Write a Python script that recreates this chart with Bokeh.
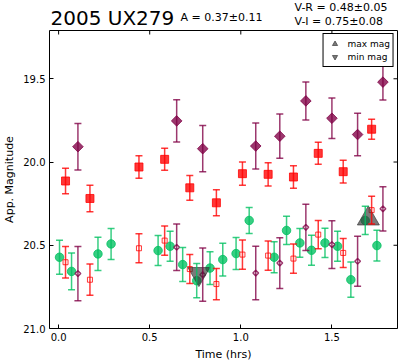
import math
from bokeh.plotting import figure
from bokeh.layouts import column
from bokeh.models import (ColumnDataSource, Whisker, TeeHead, Range1d, FixedTicker,
                          Legend, LegendItem, PrintfTickFormatter)
from bokeh.core.properties import value
from bokeh.embed import file_html
from bokeh.resources import INLINE

FONT = "DejaVu Sans"

# ---- data ----
x_ticks = [0.0, 0.5, 1.0, 1.5]
y_ticks = [19.5, 20.0, 20.5, 21.0]

# I band (filled purple diamonds) and I shifted by V-I (open purple diamonds)
t_I = [0.106, 0.648, 0.791, 1.082, 1.214, 1.357, 1.500, 1.641, 1.780]
mag_I = [19.908, 19.753, 19.920, 19.904, 19.845, 19.633, 19.737, 19.835, 19.520]
err_I = [0.140, 0.127, 0.139, 0.138, 0.133, 0.114, 0.122, 0.128, 0.108]
mag_I_shift = [20.670, 20.512, 20.677, 20.667, 20.607, 20.392, 20.496, 20.596, 20.281]
err_I_shift = [0.163, 0.140, 0.160, 0.161, 0.152, 0.139, 0.143, 0.150, 0.133]

# R band (filled red squares) and R shifted by V-R (open red squares)
t_R = [0.038, 0.172, 0.441, 0.582, 0.720, 0.866, 1.009, 1.150, 1.289, 1.425, 1.562, 1.718]
mag_R = [20.114, 20.219, 20.030, 19.984, 20.155, 20.245, 20.070, 20.074, 20.090, 19.948, 20.058, 19.803]
err_R = [0.077, 0.080, 0.067, 0.066, 0.074, 0.078, 0.070, 0.070, 0.068, 0.066, 0.068, 0.060]
mag_R_shift = [20.602, 20.707, 20.518, 20.472, 20.643, 20.733, 20.556, 20.562, 20.580, 20.436, 20.546, 20.289]
err_R_shift = [0.095, 0.094, 0.087, 0.088, 0.087, 0.094, 0.088, 0.088, 0.088, 0.085, 0.087, 0.083]

# V band (green circles)
t_V = [0.005, 0.071, 0.216, 0.288, 0.546, 0.612, 0.681, 0.758, 0.831, 0.901, 0.974,
       1.046, 1.183, 1.251, 1.324, 1.388, 1.462, 1.531, 1.604, 1.683, 1.747]
mag_V = [20.572, 20.657, 20.552, 20.492, 20.532, 20.506, 20.616, 20.713, 20.637, 20.586, 20.550,
         20.351, 20.572, 20.411, 20.486, 20.530, 20.486, 20.506, 20.707, 20.351, 20.502]
err_V = [0.102, 0.110, 0.100, 0.093, 0.090, 0.090, 0.102, 0.103, 0.098, 0.098, 0.096,
         0.078, 0.093, 0.085, 0.086, 0.090, 0.088, 0.090, 0.106, 0.085, 0.092]

# extremes
t_max, m_max = [1.700], [20.340]
t_min, m_min = [0.770], [20.672]

title_text = "2005 UX279"
amp_text = "A  = 0.37\u00b10.11"
vr_text = "V-R = 0.48\u00b10.05"
vi_text = "V-I  = 0.75\u00b10.08"

PURPLE = "#800045"
RED = "#ff0000"
GREEN = "#00c060"
GRAY = "#333333"

X0, X1 = -0.05, 1.86
Y0, Y1 = 21.0, 19.21

BL, BR = 49, 4          # left / right borders shared by header and plot
W = 401
HH = 30                 # header strip height

# ---------- header strip (title and colour texts); data units = pixels ----------
head = figure(width=W, height=HH, x_range=Range1d(BL, W - BR), y_range=Range1d(HH, 0),
              min_border_left=BL, min_border_right=BR, min_border_top=0, min_border_bottom=0,
              output_backend="svg", toolbar_location=None,
              background_fill_color="white", border_fill_color="white")
head.axis.visible = False
head.grid.visible = False
head.outline_line_color = None
head.text(x=[50], y=[17], text=[title_text], text_font=value(FONT), text_font_size="20px",
          text_color="black", text_baseline="alphabetic", text_align="left")
head.text(x=[180], y=[17], text=[amp_text], text_font=value(FONT), text_font_size="11px",
          text_color="black", text_baseline="alphabetic", text_align="left")
head.text(x=[294], y=[7], text=[vr_text], text_font=value(FONT), text_font_size="11px",
          text_color="black", text_baseline="alphabetic", text_align="left")
head.text(x=[294], y=[21], text=[vi_text], text_font=value(FONT), text_font_size="11px",
          text_color="black", text_baseline="alphabetic", text_align="left")

# ---------- main plot ----------
FW, FH = W - BL - BR, 298
p = figure(frame_width=FW, frame_height=FH,
           min_border_left=BL, min_border_right=BR, min_border_top=0, min_border_bottom=34,
           x_range=Range1d(X0, X1), y_range=Range1d(Y0, Y1),
           output_backend="svg", toolbar_location=None,
           background_fill_color="white", border_fill_color="white")
p.grid.visible = False
p.outline_line_color = "black"
p.outline_line_width = 1
p.outline_line_alpha = 1

p.xaxis.ticker = FixedTicker(ticks=x_ticks)
p.xaxis.formatter = PrintfTickFormatter(format="%.1f")
p.yaxis.ticker = FixedTicker(ticks=y_ticks)
p.yaxis.formatter = PrintfTickFormatter(format="%.1f")
p.xaxis.axis_label = "Time (hrs)"
p.yaxis.axis_label = "App. Magnitude"
for ax in [p.xaxis[0], p.yaxis[0]]:
    ax.major_tick_in = 4
    ax.major_tick_out = 0
    ax.minor_tick_in = 0
    ax.minor_tick_out = 0
    ax.axis_line_color = None
    ax.major_tick_line_color = "black"
    ax.major_label_text_font = FONT
    ax.major_label_text_font_size = "10px"
    ax.major_label_text_color = "black"
    ax.major_label_standoff = 4
    ax.axis_label_text_font = FONT
    ax.axis_label_text_font_size = "11px"
    ax.axis_label_text_font_style = "normal"
    ax.axis_label_text_color = "black"
    ax.axis_label_standoff = 4

# inward ticks on top and right edges of the frame
p.scatter(x_ticks, [Y1] * len(x_ticks), marker="dash", angle=math.pi / 2, size=8,
          line_color="black", line_width=1)
p.scatter([X1] * len(y_ticks), y_ticks, marker="dash", size=8, line_color="black", line_width=1)


def errbars(t, m, e, color, alpha, lw=1.5, cap=7):
    src = ColumnDataSource(dict(t=t, lo=[a - b for a, b in zip(m, e)], hi=[a + b for a, b in zip(m, e)]))
    w = Whisker(source=src, base="t", lower="lo", upper="hi", dimension="height",
                line_color=color, line_alpha=alpha, line_width=lw, level="glyph",
                upper_head=TeeHead(size=cap, line_color=color, line_alpha=alpha, line_width=lw),
                lower_head=TeeHead(size=cap, line_color=color, line_alpha=alpha, line_width=lw))
    p.add_layout(w)


A = 0.78
# I filled
errbars(t_I, mag_I, err_I, PURPLE, A)
p.scatter(t_I, mag_I, marker="square", angle=math.pi / 4, size=7.5,
          fill_color=PURPLE, line_color=PURPLE, fill_alpha=A, line_alpha=A)
# R filled
errbars(t_R, mag_R, err_R, RED, A)
p.scatter(t_R, mag_R, marker="square", size=8, fill_color=RED, line_color=RED,
          fill_alpha=A, line_alpha=A)
# V
errbars(t_V, mag_V, err_V, GREEN, A)
p.scatter(t_V, mag_V, marker="circle", size=8.5, fill_color=GREEN, line_color=GREEN,
          fill_alpha=A, line_alpha=A)
# R shifted
errbars(t_R, mag_R_shift, err_R_shift, RED, A)
p.scatter(t_R, mag_R_shift, marker="square", size=5, fill_color="white", line_color=RED,
          line_alpha=A, line_width=1)
# I shifted
errbars(t_I, mag_I_shift, err_I_shift, PURPLE, A)
p.scatter(t_I, mag_I_shift, marker="square", angle=math.pi / 4, size=4, fill_color="white",
          line_color=PURPLE, line_alpha=A, line_width=1.5)

r_max = p.scatter(t_max, m_max, marker="triangle", size=22, fill_color=GRAY, line_color=GRAY,
                  fill_alpha=0.65, line_alpha=0.65)
r_min = p.scatter(t_min, m_min, marker="inverted_triangle", size=22, fill_color=GRAY,
                  line_color=GRAY, fill_alpha=0.65, line_alpha=0.65)

legend = Legend(items=[LegendItem(label="max mag", renderers=[r_max]),
                       LegendItem(label="min mag", renderers=[r_min])],
                location="top_right", label_text_font=FONT, label_text_font_size="9px",
                label_text_color="black", glyph_height=13, glyph_width=16, label_height=13,
                padding=3, spacing=0, margin=3, label_standoff=5,
                border_line_color="black", border_line_width=1, border_line_alpha=1,
                background_fill_color="white", background_fill_alpha=1)
p.add_layout(legend)

layout = column(head, p, spacing=0)
open("out.html", "w").write(file_html(layout, INLINE))
